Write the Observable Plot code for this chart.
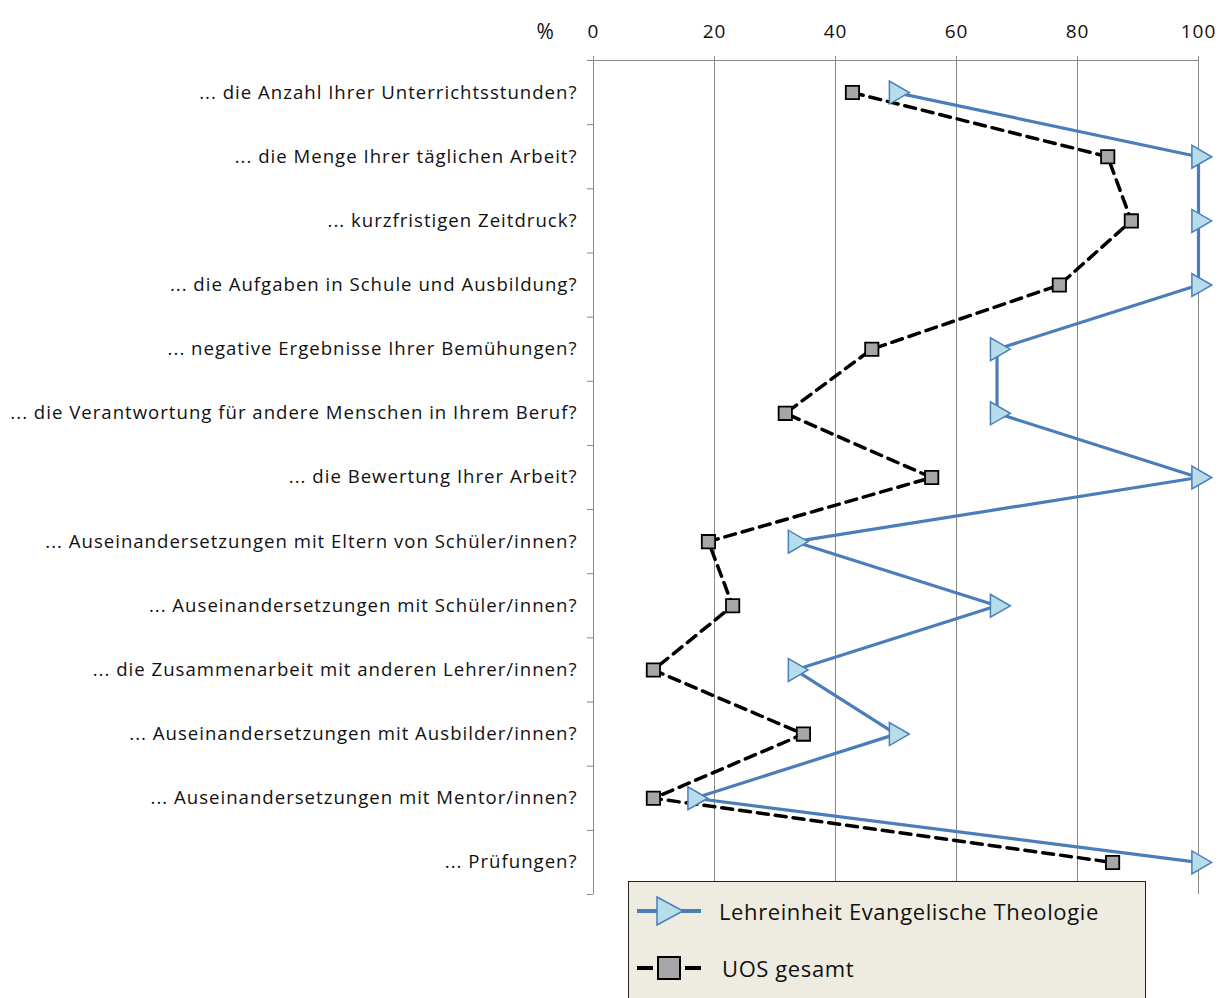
<!DOCTYPE html>
<html>
<head>
<meta charset="utf-8">
<script src="https://cdn.jsdelivr.net/npm/d3@7"></script>
<script src="https://cdn.jsdelivr.net/npm/@observablehq/plot@0.6"></script>
<style>
  body { margin: 0; background: #fff; }
  #wrap { position: relative; width: 1224px; height: 998px; overflow: hidden; font-family: "Open Sans", sans-serif; }
  #wrap svg text { letter-spacing: 1px; }
  #legend { position: absolute; left: 628px; top: 881px; width: 516px; height: 140px; background: #EEECE1; border: 1.5px solid #222; }
  .item { position: absolute; left: 8px; display: flex; align-items: center; font-size: 22px; color: #111; letter-spacing: 0.6px; }
  .item svg { margin-right: 18px; }
</style>
</head>
<body>
<div id="wrap"></div>
<script>
const categories = [
  "... die Anzahl Ihrer Unterrichtsstunden?",
  "... die Menge Ihrer täglichen Arbeit?",
  "... kurzfristigen Zeitdruck?",
  "... die Aufgaben in Schule und Ausbildung?",
  "... negative Ergebnisse Ihrer Bemühungen?",
  "... die Verantwortung für andere Menschen in Ihrem Beruf?",
  "... die Bewertung Ihrer Arbeit?",
  "... Auseinandersetzungen mit Eltern von Schüler/innen?",
  "... Auseinandersetzungen mit Schüler/innen?",
  "... die Zusammenarbeit mit anderen Lehrer/innen?",
  "... Auseinandersetzungen mit Ausbilder/innen?",
  "... Auseinandersetzungen mit Mentor/innen?",
  "... Prüfungen?"
];
const theologie = [50, 100, 100, 100, 66.7, 66.7, 100, 33.3, 66.7, 33.3, 50, 16.7, 100];
const uos = [42.8, 85, 88.9, 77, 46, 31.7, 55.9, 19, 23, 9.9, 34.7, 9.9, 85.8];
const xTicks = [0, 20, 40, 60, 80, 100];
const seriesNames = ["Lehreinheit Evangelische Theologie", "UOS gesamt"];

const blue = "#4A7EBB", triFill = "#B7DDEB", sqFill = "#A6A6A6";
const dataT = theologie.map((v, i) => ({i, v}));
const dataU = uos.map((v, i) => ({i, v}));
const idx = d3.range(categories.length);
const bounds = d3.range(-0.5, categories.length, 1);

const chart = Plot.plot({
  width: 1224,
  height: 998,
  marginLeft: 593,
  marginRight: 26,
  marginTop: 60,
  marginBottom: 104,
  style: {fontFamily: "Open Sans, sans-serif", color: "#111", background: "transparent"},
  x: {domain: [0, 100]},
  y: {domain: [-0.5, categories.length - 0.5], reverse: true},
  marks: [
    Plot.gridX(xTicks.slice(1), {stroke: "#888", strokeOpacity: 1, strokeWidth: 1}),
    Plot.ruleX([0], {stroke: "#888", strokeWidth: 1}),
    Plot.ruleY([-0.5], {stroke: "#888", strokeWidth: 1}),
    Plot.axisX({anchor: "top", ticks: xTicks, tickSize: 5, tickPadding: 18, fontSize: 19, label: null, stroke: "#888"}),
    Plot.axisY({ticks: bounds, tickSize: 6, tickFormat: () => "", stroke: "#888", label: null}),
    Plot.axisY({ticks: idx, tickSize: 0, tickPadding: 16, tickFormat: i => categories[i], fontSize: 18.6, label: null}),
    Plot.text(["%"], {frameAnchor: "top-left", dx: -57, dy: -36, fontSize: 21}),
    Plot.line(dataU, {x: "v", y: "i", stroke: "#000", strokeWidth: 3.5, strokeDasharray: "11,7"}),
    Plot.line(dataT, {x: "v", y: "i", stroke: blue, strokeWidth: 3.2}),
    Plot.dot(dataU, {x: "v", y: "i", symbol: "square", r: 7.5, fill: sqFill, stroke: "#000", strokeWidth: 1.8}),
    Plot.dot(dataT, {x: "v", y: "i", symbol: "triangle", rotate: 90, r: 8.5, fill: triFill, stroke: blue, strokeWidth: 1.5})
  ]
});
const wrap = document.getElementById("wrap");
wrap.appendChild(chart);
chart.style.position = "absolute"; chart.style.left = "0"; chart.style.top = "0";

const legend = document.createElement("div");
legend.id = "legend";
legend.innerHTML = `
  <div class="item" style="top:12px">
    <svg width="64" height="34"><line x1="0" y1="17" x2="64" y2="17" stroke="${blue}" stroke-width="4"/>
      <path d="M20,3 L46,17 L20,31 Z" fill="${triFill}" stroke="${blue}" stroke-width="1.5"/></svg>
    <span>${seriesNames[0]}</span></div>
  <div class="item" style="top:69px">
    <svg width="64" height="34"><line x1="0" y1="17" x2="16" y2="17" stroke="#000" stroke-width="4"/>
      <line x1="48" y1="17" x2="64" y2="17" stroke="#000" stroke-width="4"/>
      <rect x="21" y="6" width="22" height="22" fill="${sqFill}" stroke="#000" stroke-width="2"/></svg>
    <span style="margin-left:3px">${seriesNames[1]}</span></div>`;
wrap.appendChild(legend);
</script>
</body>
</html>
